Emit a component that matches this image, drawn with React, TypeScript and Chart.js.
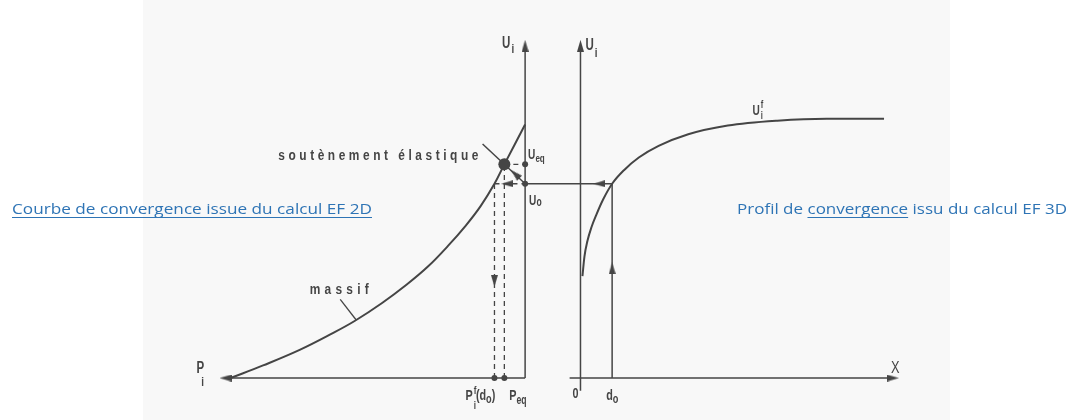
import React, { useEffect, useRef } from "react";
import { Chart, registerables } from "chart.js";

Chart.register(...registerables);

// ---------- data (diagram units) ----------
// Left diagram: confinement pressure P (grows to the left) vs radial displacement U
const massifP = [2.98, 2.65, 2.28, 1.95, 1.72, 1.45, 1.2, 0.98, 0.78, 0.6, 0.45, 0.31, 0.21, 0.0];
const massifU = [0.0, 0.13, 0.29, 0.46, 0.59, 0.77, 0.96, 1.15, 1.36, 1.57, 1.77, 2.0, 2.2, 2.61];
// Elastic support line (soutènement élastique)
const supportP = [0.43, 0.0];
const supportU = [2.41, 2.0];
// Right diagram: convergence profile U(X)
const profileX = [0.02, 0.04, 0.07, 0.11, 0.16, 0.23, 0.32, 0.44, 0.59, 0.79, 1.09, 1.49, 1.99, 2.49, 3.07];
const profileU = [1.05, 1.25, 1.41, 1.55, 1.68, 1.84, 2.0, 2.14, 2.27, 2.39, 2.51, 2.6, 2.65, 2.67, 2.67];
// Leader line of the "massif" label
const massifLeaderP = [1.87, 1.71];
const massifLeaderU = [0.81, 0.6];
// Key values
const U0 = 2.0;
const UEQ = 2.2;
const PEQ = 0.21;
const PF_D0 = 0.31;
const D0 = 0.32;
// Axis extents
const P_AXIS_END = 3.03;
const U_AXIS_END = 3.42;
const X_AXIS_START = -0.11;
const X_AXIS_END = 3.16;
const RIGHT_U_AXIS_BOTTOM = -0.13;
const RIGHT_ORIGIN = 0.56; // position of X = 0 measured from the left U axis

// Titles
const titleLeft = "Courbe de convergence issue du calcul EF 2D";
const titleRight = ["Profil de ", "convergence", " issu du calcul EF 3D"];

const INK = "#454545";
const BLUE = "#2e74b5";

const L = (p: number) => -p; // left diagram abscissa
const R = (x: number) => RIGHT_ORIGIN + x; // right diagram abscissa

type Part = { t: string; s?: number; dy?: number; kx?: number; adv?: boolean };

const FONT = '"Liberation Sans", Arial, sans-serif';

function drawRich(ctx: CanvasRenderingContext2D, x: number, y: number, parts: Part[], size: number, sx = 0.72, weight = "bold") {
  ctx.save();
  ctx.translate(x, y);
  ctx.scale(sx, 1);
  ctx.textAlign = "left";
  ctx.textBaseline = "alphabetic";
  ctx.fillStyle = INK;
  let cx = 0;
  for (const p of parts) {
    const s = size * (p.s ?? 1);
    ctx.font = `${weight} ${s}px ${FONT}`;
    const x0 = cx + (p.kx ?? 0) / sx;
    ctx.fillText(p.t, x0, p.dy ?? 0);
    if (p.adv !== false) cx = x0 + ctx.measureText(p.t).width;
  }
  ctx.restore();
}

function drawSpaced(ctx: CanvasRenderingContext2D, text: string, x: number, y: number, size: number, width: number, align: "left" | "right" | "center", sx = 0.85) {
  ctx.save();
  ctx.font = `bold ${size}px ${FONT}`;
  ctx.fillStyle = INK;
  ctx.textAlign = "left";
  ctx.textBaseline = "alphabetic";
  const chars = Array.from(text);
  const widths = chars.map((c) => ctx.measureText(c).width * sx);
  const natural = widths.reduce((a, b) => a + b, 0);
  const gap = (width - natural) / (chars.length - 1);
  let cx = align === "right" ? x - width : align === "center" ? x - width / 2 : x;
  chars.forEach((c, i) => {
    ctx.save();
    ctx.translate(cx, y);
    ctx.scale(sx, 1);
    ctx.fillText(c, 0, 0);
    ctx.restore();
    cx += widths[i] + gap;
  });
  ctx.restore();
}

function drawFit(ctx: CanvasRenderingContext2D, segs: string[], x: number, y: number, width: number, underline: number[]) {
  ctx.save();
  ctx.font = `15px "Open Sans", sans-serif`;
  ctx.fillStyle = BLUE;
  ctx.strokeStyle = BLUE;
  ctx.textAlign = "left";
  ctx.textBaseline = "alphabetic";
  const full = segs.join("");
  const sx = width / ctx.measureText(full).width;
  let cx = 0;
  segs.forEach((s, i) => {
    const w = ctx.measureText(s).width;
    ctx.save();
    ctx.translate(x + cx * sx, y);
    ctx.scale(sx, 1);
    ctx.fillText(s, 0, 0);
    ctx.restore();
    if (underline.includes(i)) {
      ctx.lineWidth = 1;
      ctx.beginPath();
      ctx.moveTo(x + cx * sx, y + 3.5);
      ctx.lineTo(x + (cx + w) * sx, y + 3.5);
      ctx.stroke();
    }
    cx += w;
  });
  ctx.restore();
}

const textPlugin = {
  id: "diagramText",
  beforeDatasetsDraw(chart: any) {
    const ctx = chart.ctx as CanvasRenderingContext2D;
    ctx.save();
    ctx.fillStyle = "#f8f8f8";
    ctx.fillRect(143, 0, 807, 420);
    ctx.restore();
  },
  afterDatasetsDraw(chart: any) {
    const ctx = chart.ctx as CanvasRenderingContext2D;
    const px = (v: number) => chart.scales.x.getPixelForValue(v);
    const py = (v: number) => chart.scales.y.getPixelForValue(v);

    // axis names
    drawRich(ctx, px(0) - 23, py(U_AXIS_END) + 2, [{ t: "U" }, { t: "i", s: 0.85, dy: 5, kx: 1 }], 16);
    drawRich(ctx, px(R(0)) + 5, py(U_AXIS_END) + 4, [{ t: "U" }, { t: "i", s: 0.85, dy: 7, kx: 1 }], 16);
    drawRich(ctx, px(L(P_AXIS_END)) - 29, py(0) - 5, [{ t: "P" }, { t: "i", s: 0.85, dy: 13, kx: -3 }], 16);
    drawRich(ctx, px(R(X_AXIS_END)) - 2, py(0) - 5, [{ t: "X" }], 16, 0.8, "normal");

    // key values
    drawRich(ctx, px(0) + 3, py(UEQ) - 5, [{ t: "U" }, { t: "eq", s: 0.8, dy: 3 }], 14);
    drawRich(ctx, px(0) + 4, py(U0) + 21, [{ t: "U" }, { t: "o", s: 0.85, dy: 1 }], 14);
    drawRich(ctx, px(L(PF_D0)) - 29, py(0) + 22, [
      { t: "P" },
      { t: "f", s: 0.75, dy: -6, adv: false, kx: 1 },
      { t: "i", s: 0.75, dy: 9, kx: 1 },
      { t: "(d" },
      { t: "o", s: 0.85, dy: 3 },
      { t: ")" },
    ], 15);
    drawRich(ctx, px(L(PEQ)) + 5, py(0) + 22, [{ t: "P" }, { t: "eq", s: 0.8, dy: 4 }], 15);
    drawRich(ctx, px(R(0)) - 8, py(0) + 20, [{ t: "0" }], 15);
    drawRich(ctx, px(R(D0)) - 6, py(0) + 22, [{ t: "d" }, { t: "o", s: 0.85, dy: 3 }], 15);
    drawRich(ctx, px(R(1.8)) - 6, py(2.65) - 6, [
      { t: "U" },
      { t: "f", s: 0.75, dy: -7, adv: false, kx: 1 },
      { t: "i", s: 0.75, dy: 4, kx: 1 },
    ], 14);

    // curve names
    drawSpaced(ctx, "soutènement élastique", px(L(PEQ)) - 26, py(UEQ) - 4, 14, 200, "right");
    drawSpaced(ctx, "massif", px(L(massifLeaderP[0])) - 1, py(massifLeaderU[0]) - 5, 14, 59, "center");

    // blue titles
    drawFit(ctx, [titleLeft], 12, 214, 360, [0]);
    drawFit(ctx, titleRight, 737, 214, 330, [1]);
  },
};

export default function App() {
  const ref = useRef<HTMLCanvasElement>(null);

  useEffect(() => {
    const canvas = ref.current;
    if (!canvas) return;

    const arrow = document.createElement("canvas");
    arrow.width = 7;
    arrow.height = 12;
    const a = arrow.getContext("2d")!;
    a.fillStyle = INK;
    a.beginPath();
    a.moveTo(3.5, 0);
    a.lineTo(7, 12);
    a.lineTo(0, 12);
    a.closePath();
    a.fill();

    const line = (pts: { x: number; y: number }[], extra: any = {}) => ({
      data: pts,
      showLine: true,
      borderColor: INK,
      backgroundColor: INK,
      borderWidth: 1.5,
      pointRadius: 0,
      fill: false,
      ...extra,
    });
    const dashed = { borderDash: [5, 4], borderWidth: 1.3 };

    const arrowPts = [
      { x: 0, y: U_AXIS_END },
      { x: R(0), y: U_AXIS_END },
      { x: L(P_AXIS_END), y: 0 },
      { x: R(X_AXIS_END), y: 0 },
      { x: R(0.19), y: U0 },
      { x: R(D0), y: 1.13 },
      { x: L(PF_D0), y: 1.0 },
      { x: L(0.18), y: U0 },
      { x: L(0.1), y: 2.1 },
    ];
    const arrowRot = [0, 0, 270, 90, 270, 0, 180, 270, 314];

    const datasets: any[] = [
      // big equilibrium dot
      { data: [{ x: L(PEQ), y: UEQ }], pointRadius: 6, pointBackgroundColor: INK, pointBorderWidth: 0, showLine: false },
      // small dots
      {
        data: [
          { x: L(PF_D0), y: 0 },
          { x: L(PEQ), y: 0 },
          { x: 0, y: UEQ },
          { x: 0, y: U0 },
        ],
        pointRadius: 3,
        pointBackgroundColor: INK,
        pointBorderWidth: 0,
        showLine: false,
      },
      // arrowheads
      { data: arrowPts, pointStyle: arrow, pointRotation: arrowRot, pointRadius: 5, showLine: false },
      // curves
      line(massifP.map((p, i) => ({ x: L(p), y: massifU[i] })), { borderWidth: 2, tension: 0.4 }),
      line(profileX.map((x, i) => ({ x: R(x), y: profileU[i] })), { borderWidth: 2, cubicInterpolationMode: "monotone" }),
      line(supportP.map((p, i) => ({ x: L(p), y: supportU[i] })), { borderWidth: 1.5 }),
      line(massifLeaderP.map((p, i) => ({ x: L(p), y: massifLeaderU[i] })), { borderWidth: 1.3 }),
      // axes
      line([{ x: 0, y: 0 }, { x: 0, y: U_AXIS_END }]),
      line([{ x: 0, y: 0 }, { x: L(P_AXIS_END), y: 0 }]),
      line([{ x: R(0), y: RIGHT_U_AXIS_BOTTOM }, { x: R(0), y: U_AXIS_END }]),
      line([{ x: R(X_AXIS_START), y: 0 }, { x: R(X_AXIS_END), y: 0 }]),
      // U0 transfer line and d0 vertical
      line([{ x: 0, y: U0 }, { x: R(D0), y: U0 }]),
      line([{ x: R(D0), y: 0 }, { x: R(D0), y: U0 }]),
      // dashed construction lines
      line([{ x: L(PF_D0), y: 0 }, { x: L(PF_D0), y: U0 }], dashed),
      line([{ x: L(PF_D0), y: U0 }, { x: 0, y: U0 }], dashed),
      line([{ x: L(PEQ), y: 0 }, { x: L(PEQ), y: UEQ }], dashed),
      line([{ x: L(PEQ), y: UEQ }, { x: 0, y: UEQ }], dashed),
    ];

    const chart = new Chart(canvas, {
      type: "scatter",
      data: { datasets },
      options: {
        responsive: false,
        animation: false,
        devicePixelRatio: 1,
        events: [],
        layout: { padding: 0 },
        plugins: { legend: { display: false }, tooltip: { enabled: false } },
        scales: {
          x: { type: "linear", display: false, min: -5.25, max: 5.45 },
          y: { type: "linear", display: false, min: -0.37, max: 3.83 },
        },
      },
      plugins: [textPlugin],
    } as any);

    return () => chart.destroy();
  }, []);

  return (
    <div style={{ position: "fixed", left: 0, top: 0, width: 1070, height: 420, background: "#ffffff" }}>
      <canvas ref={ref} width={1070} height={420} style={{ display: "block" }} />
    </div>
  );
}
